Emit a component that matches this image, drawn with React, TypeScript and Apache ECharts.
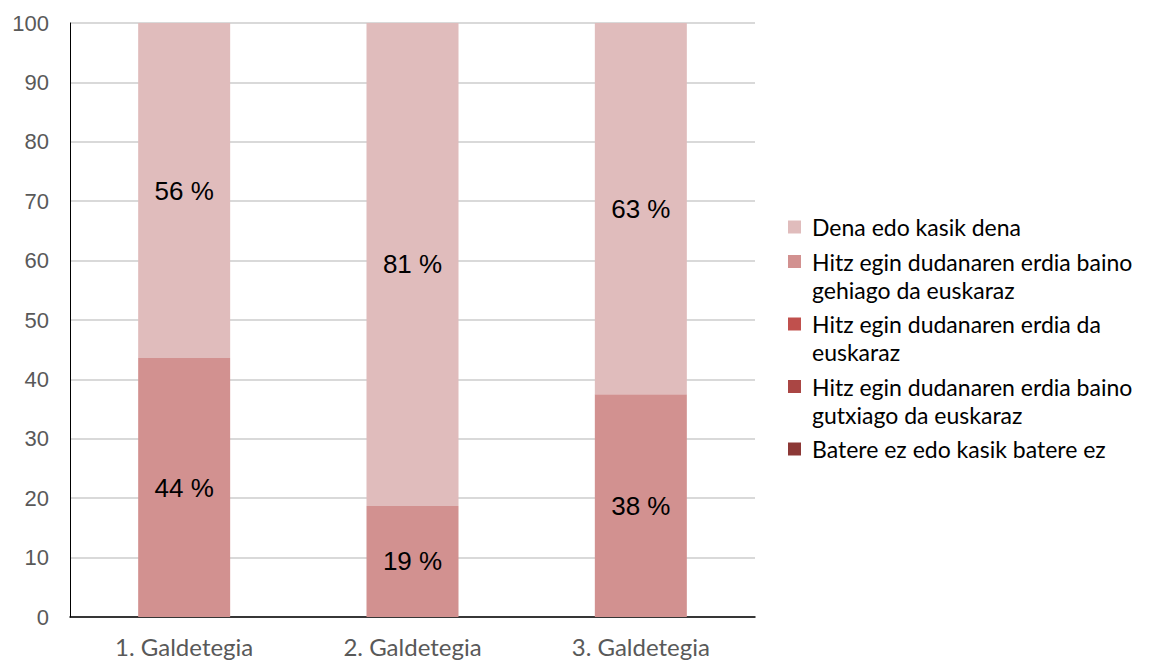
import React, { useEffect, useRef } from "react";
import * as echarts from "echarts";

const categories = ["1. Galdetegia", "2. Galdetegia", "3. Galdetegia"];
const seriesNames = [
  "Dena edo kasik dena",
  "Hitz egin dudanaren erdia baino gehiago da euskaraz",
  "Hitz egin dudanaren erdia da euskaraz",
  "Hitz egin dudanaren erdia baino gutxiago da euskaraz",
  "Batere ez edo kasik batere ez",
];
const legendLines = [
  ["Dena edo kasik dena"],
  ["Hitz egin dudanaren erdia baino", "gehiago da euskaraz"],
  ["Hitz egin dudanaren erdia da", "euskaraz"],
  ["Hitz egin dudanaren erdia baino", "gutxiago da euskaraz"],
  ["Batere ez edo kasik batere ez"],
];
const colors = ["#e0bcbc", "#d29190", "#c0504d", "#aa4644", "#8c3836"];
const denaValues = [56.4, 81.3, 62.5];
const gehiagoValues = [43.6, 18.7, 37.5];
const erdiaValues = [0, 0, 0];
const gutxiagoValues = [0, 0, 0];
const batereValues = [0, 0, 0];
const yTicks = [0, 10, 20, 30, 40, 50, 60, 70, 80, 90, 100];

export default function App() {
  const ref = useRef<HTMLDivElement>(null);
  useEffect(() => {
    if (!ref.current) return;
    const chart = echarts.init(ref.current, null, { renderer: "svg" });
    const dataBySeries = [denaValues, gehiagoValues, erdiaValues, gutxiagoValues, batereValues];
    const order = [4, 3, 2, 1, 0];
    const series = order.map((i) => ({
      name: seriesNames[i],
      type: "bar",
      stack: "total",
      barWidth: 92,
      data: dataBySeries[i],
      itemStyle: { color: colors[i] },
      label: {
        show: i <= 1,
        position: "inside",
        color: "#000000",
        fontFamily: "'Liberation Sans', Arial, sans-serif",
        fontSize: 26,
        formatter: (p: any) => `${Math.round(p.value)} %`,
      },
    }));

    const legendGraphics: any[] = [];
    let y = 227;
    const lineH = 28;
    legendLines.forEach((lines, i) => {
      legendGraphics.push({
        type: "rect",
        shape: { x: 788, y: y - 6.5, width: 13, height: 13 },
        style: { fill: colors[i] },
      });
      lines.forEach((ln, j) => {
        legendGraphics.push({
          type: "text",
          x: 812,
          y: y + j * lineH,
          style: {
            text: ln,
            fill: "#000000",
            fontSize: 23,
            fontFamily: "Lato, 'Open Sans', sans-serif",
            verticalAlign: "middle",
            align: "left",
          },
        });
      });
      y += (lines.length - 1) * lineH + 34.5;
    });

    chart.setOption({
      animation: false,
      backgroundColor: "#ffffff",
      grid: { left: 70, top: 23, right: 419, bottom: 44, containLabel: false },
      xAxis: {
        type: "category",
        data: categories,
        axisLine: { lineStyle: { color: "#000000", width: 1.5 } },
        axisTick: { show: false },
        axisLabel: {
          color: "#595959",
          fontFamily: "Lato, 'Open Sans', sans-serif",
          fontSize: 24,
          margin: 17,
        },
      },
      yAxis: {
        type: "value",
        min: yTicks[0],
        max: yTicks[yTicks.length - 1],
        interval: 10,
        axisLine: { show: true, lineStyle: { color: "#000000", width: 1 } },
        axisTick: { show: false },
        splitLine: { lineStyle: { color: "#d9d9d9", width: 2 } },
        axisLabel: {
          color: "#595959",
          fontFamily: "'Liberation Sans', Arial, sans-serif",
          fontSize: 22,
          margin: 21,
        },
      },
      series,
      graphic: legendGraphics,
    });
    return () => chart.dispose();
  }, []);
  return (
    <div
      ref={ref}
      style={{ position: "fixed", left: 0, top: 0, width: 1174, height: 661, background: "#fff" }}
    />
  );
}
